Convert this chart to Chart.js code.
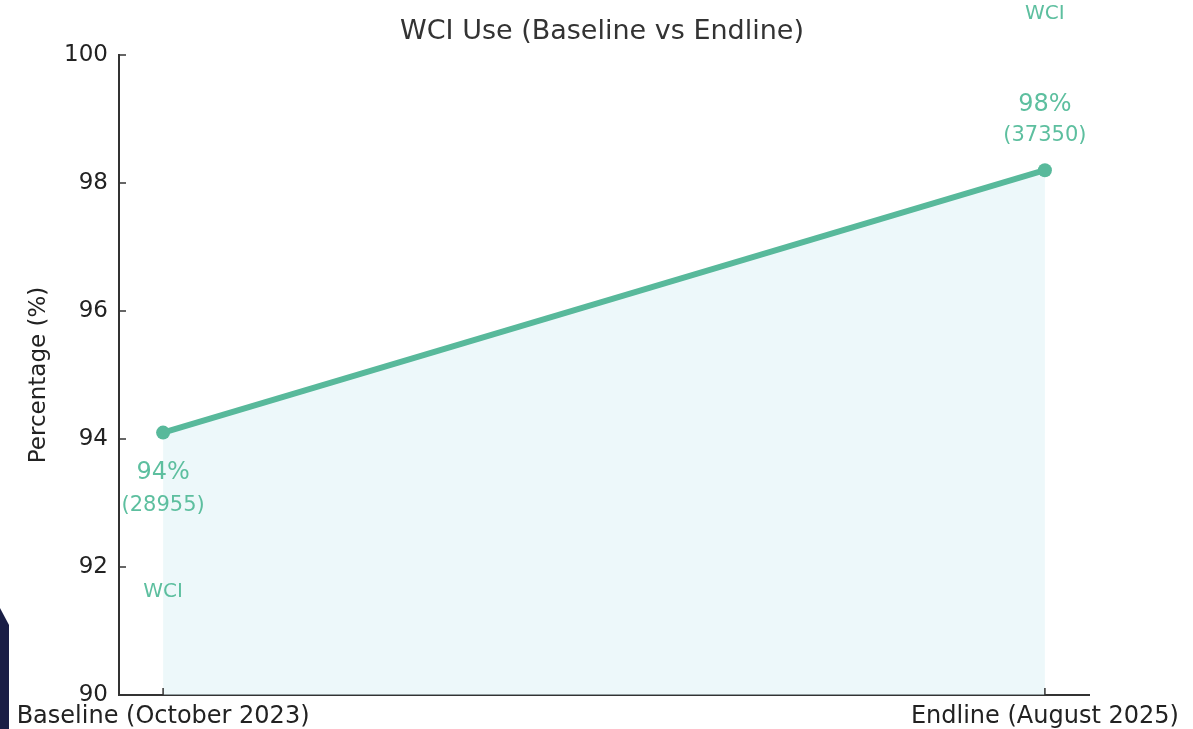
<!DOCTYPE html>
<html>
<head>
<meta charset="utf-8">
<script src="https://cdn.jsdelivr.net/npm/chart.js@4.4.1/dist/chart.umd.min.js"></script>
<style>
  body { margin: 0; background: #fff; }
  #wrap { position: relative; width: 1193px; height: 729px; }
  #deco {
    position: absolute; left: 0; top: 608px; width: 9px; height: 121px;
    background: #1a1e45; clip-path: polygon(0 0, 100% 14%, 100% 100%, 0 100%);
  }
  canvas { position: relative; }
</style>
</head>
<body>
<div id="wrap">
  <div id="deco"></div>
  <canvas id="wciChart"></canvas>
</div>
<script>
// --- datos ---
const categories = ["Baseline (October 2023)", "Endline (August 2025)"];
const wciPercent = [94.1, 98.2];
const wciCounts = [28955, 37350];
const pctLabels = ["94%", "98%"];
const yTicks = [90, 92, 94, 96, 98, 100];
const chartTitle = "WCI Use (Baseline vs Endline)";

const teal = "#58b99b";
const tealText = "#5dbf9f";
const font = "'DejaVu Sans', sans-serif";

// titulo centrado en todo el lienzo (no sobre el area del grafico)
const pageTitle = {
  id: "pageTitle",
  afterDraw(chart) {
    const { ctx } = chart;
    ctx.save();
    ctx.fillStyle = "#333";
    ctx.font = "27px " + font;
    ctx.textAlign = "center";
    ctx.textBaseline = "middle";
    ctx.fillText(chartTitle, 602, 32);
    ctx.restore();
  }
};

// ticks hacia adentro, como en matplotlib
const inwardTicks = {
  id: "inwardTicks",
  afterDraw(chart) {
    const { ctx, chartArea, scales } = chart;
    ctx.save();
    ctx.strokeStyle = "#333";
    ctx.lineWidth = 1.5;
    scales.y.ticks.forEach(t => {
      const y = scales.y.getPixelForValue(t.value);
      ctx.beginPath();
      ctx.moveTo(chartArea.left, y);
      ctx.lineTo(chartArea.left + 7, y);
      ctx.stroke();
    });
    scales.x.ticks.forEach(t => {
      const x = scales.x.getPixelForValue(t.value);
      ctx.beginPath();
      ctx.moveTo(x, chartArea.bottom);
      ctx.lineTo(x, chartArea.bottom - 7);
      ctx.stroke();
    });
    ctx.restore();
  }
};

// etiquetas de porcentaje, conteo y "WCI"
const pointLabels = {
  id: "pointLabels",
  afterDatasetsDraw(chart) {
    const { ctx } = chart;
    const pts = chart.getDatasetMeta(0).data;
    ctx.save();
    ctx.fillStyle = tealText;
    ctx.textAlign = "center";
    ctx.textBaseline = "middle";
    pts.forEach((p, i) => {
      const below = i === 0;
      const o = below ? [40, 73, 159] : [-65, -35, -156];
      ctx.font = "24px " + font;
      ctx.fillText(pctLabels[i], p.x, p.y + o[0]);
      ctx.font = "21px " + font;
      ctx.fillText("(" + wciCounts[i] + ")", p.x, p.y + o[1]);
      ctx.font = "20px " + font;
      ctx.fillText("WCI", p.x, p.y + o[2]);
    });
    ctx.restore();
  }
};

new Chart(document.getElementById("wciChart"), {
  type: "line",
  data: {
    datasets: [{
      label: "WCI",
      data: wciPercent.map((v, i) => ({ x: i, y: v })),
      borderColor: teal,
      backgroundColor: "rgba(222,243,245,0.55)",
      fill: "start",
      borderWidth: 6,
      pointRadius: 7,
      pointHoverRadius: 7,
      pointBackgroundColor: teal,
      pointBorderWidth: 0
    }]
  },
  options: {
    responsive: true,
    maintainAspectRatio: false,
    animation: false,
    layout: { padding: { left: 0, right: 104, top: 55, bottom: 0 } },
    plugins: {
      legend: { display: false },
      tooltip: { enabled: false },
      title: { display: false }
    },
    scales: {
      x: {
        type: "linear",
        min: -0.05,
        max: 1.05,
        afterBuildTicks: s => { s.ticks = categories.map((c, i) => ({ value: i })); },
        afterFit: s => { s.height = 34; },
        grid: { drawOnChartArea: false, drawTicks: false },
        border: { display: true, color: "#333", width: 2 },
        ticks: {
          padding: 7,
          color: "#222",
          maxRotation: 0,
          font: { family: font, size: 24 },
          callback: v => categories[v]
        }
      },
      y: {
        min: 90,
        max: 100,
        afterBuildTicks: s => { s.ticks = yTicks.map(v => ({ value: v })); },
        afterFit: s => { s.width = 119; },
        grid: { drawOnChartArea: false, drawTicks: false },
        border: { display: true, color: "#333", width: 2 },
        ticks: {
          padding: 11,
          color: "#222",
          font: { family: font, size: 23 }
        },
        title: {
          display: true,
          text: "Percentage (%)",
          color: "#222",
          font: { family: font, size: 23 },
          padding: { top: 25, bottom: 0 }
        }
      }
    }
  },
  plugins: [inwardTicks, pointLabels, pageTitle]
});
</script>
</body>
</html>
